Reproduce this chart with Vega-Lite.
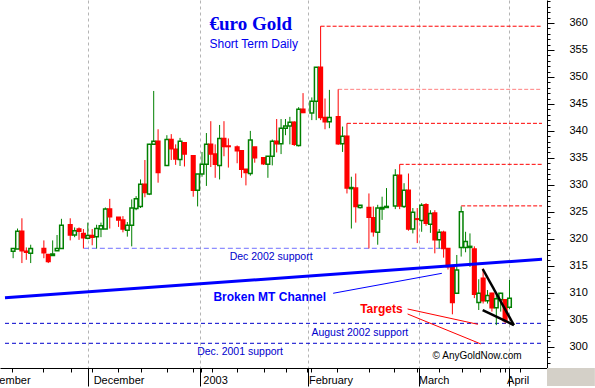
{
  "$schema": "https://vega.github.io/schema/vega-lite/v6.json",
  "width": 547,
  "height": 368,
  "autosize": {"type": "none"},
  "padding": {"left": 0, "top": 0, "right": 48, "bottom": 20},
  "background": "white",
  "config": {"view": {"stroke": null}},
  "datasets": {
    "candles": [
      {"t": 2, "o": 317.7, "h": 318.3, "l": 316.4, "c": 318.2},
      {"t": 3, "o": 318.1, "h": 321.9, "l": 318.1, "c": 321.4},
      {"t": 4, "o": 321.4, "h": 323.8, "l": 315.5, "c": 317.8},
      {"t": 5, "o": 317.7, "h": 318.4, "l": 316.1, "c": 317.5},
      {"t": 6, "o": 317.3, "h": 318.9, "l": 315.5, "c": 318.2},
      {"t": 9, "o": 318.2, "h": 319.7, "l": 316.4, "c": 317.4},
      {"t": 10, "o": 317.1, "h": 317.1, "l": 315.5, "c": 315.8},
      {"t": 11, "o": 316.9, "h": 319.7, "l": 316.9, "c": 317.2},
      {"t": 12, "o": 317.8, "h": 320.7, "l": 317.8, "c": 318.2},
      {"t": 13, "o": 318.2, "h": 323.7, "l": 318.2, "c": 322.5},
      {"t": 15, "o": 322.6, "h": 323.8, "l": 319.7, "c": 320.7},
      {"t": 16, "o": 320.7, "h": 322.1, "l": 320.3, "c": 321.5},
      {"t": 17, "o": 321.8, "h": 322.1, "l": 319.8, "c": 321.4},
      {"t": 18, "o": 321.0, "h": 321.8, "l": 318.2, "c": 320.2},
      {"t": 19, "o": 320.1, "h": 323.0, "l": 319.9, "c": 320.6},
      {"t": 20, "o": 320.6, "h": 321.8, "l": 318.8, "c": 320.3},
      {"t": 21, "o": 320.4, "h": 322.6, "l": 318.2, "c": 321.9},
      {"t": 22, "o": 321.8, "h": 323.0, "l": 320.3, "c": 322.4},
      {"t": 23, "o": 321.8, "h": 325.8, "l": 321.8, "c": 325.5},
      {"t": 24, "o": 325.5, "h": 327.4, "l": 321.9, "c": 324.1},
      {"t": 26, "o": 324.0, "h": 324.0, "l": 322.2, "c": 323.5},
      {"t": 27, "o": 323.5, "h": 324.2, "l": 321.2, "c": 321.8},
      {"t": 28, "o": 321.6, "h": 323.1, "l": 320.4, "c": 322.5},
      {"t": 29, "o": 322.5, "h": 327.3, "l": 318.6, "c": 325.7},
      {"t": 30, "o": 325.6, "h": 327.9, "l": 325.3, "c": 327.4},
      {"t": 31, "o": 326.0, "h": 331.0, "l": 325.7, "c": 330.1},
      {"t": 32, "o": 330.1, "h": 334.6, "l": 327.7, "c": 328.6},
      {"t": 33, "o": 328.3, "h": 337.6, "l": 328.1, "c": 337.5},
      {"t": 34, "o": 337.5, "h": 347.4, "l": 337.5, "c": 338.1},
      {"t": 35, "o": 338.1, "h": 340.3, "l": 330.4, "c": 332.3},
      {"t": 37, "o": 333.6, "h": 339.2, "l": 333.6, "c": 338.4},
      {"t": 38, "o": 338.4, "h": 339.4, "l": 334.6, "c": 336.7},
      {"t": 39, "o": 336.6, "h": 337.5, "l": 333.7, "c": 334.8},
      {"t": 40, "o": 334.7, "h": 338.7, "l": 333.5, "c": 338.1},
      {"t": 41, "o": 337.8, "h": 337.8, "l": 333.4, "c": 335.7},
      {"t": 43, "o": 335.4, "h": 335.4, "l": 327.8, "c": 329.0},
      {"t": 44, "o": 329.0, "h": 332.0, "l": 326.0, "c": 332.0},
      {"t": 45, "o": 332.0, "h": 336.1, "l": 331.5, "c": 333.8},
      {"t": 46, "o": 333.8, "h": 339.6, "l": 329.8, "c": 337.5},
      {"t": 47, "o": 337.5, "h": 341.8, "l": 333.3, "c": 335.7},
      {"t": 48, "o": 335.7, "h": 337.5, "l": 331.3, "c": 333.8},
      {"t": 49, "o": 333.6, "h": 341.1, "l": 331.0, "c": 338.6},
      {"t": 50, "o": 338.6, "h": 341.8, "l": 335.3, "c": 337.1},
      {"t": 51, "o": 337.2, "h": 338.6, "l": 333.2, "c": 337.1},
      {"t": 53, "o": 337.0, "h": 337.3, "l": 334.0, "c": 336.3},
      {"t": 54, "o": 336.3, "h": 336.3, "l": 331.3, "c": 332.9},
      {"t": 55, "o": 332.9, "h": 332.9, "l": 329.9, "c": 332.3},
      {"t": 56, "o": 332.1, "h": 340.0, "l": 331.7, "c": 338.3},
      {"t": 57, "o": 337.0, "h": 337.0, "l": 334.1, "c": 335.0},
      {"t": 59, "o": 335.0, "h": 335.0, "l": 333.7, "c": 333.9},
      {"t": 60, "o": 333.8, "h": 335.3, "l": 331.3, "c": 335.3},
      {"t": 61, "o": 335.3, "h": 338.4, "l": 333.6, "c": 338.1},
      {"t": 62, "o": 338.1, "h": 342.2, "l": 336.0, "c": 337.6},
      {"t": 63, "o": 337.6, "h": 342.2, "l": 335.7, "c": 340.5},
      {"t": 64, "o": 340.5, "h": 342.2, "l": 339.2, "c": 340.9},
      {"t": 65, "o": 340.9, "h": 342.6, "l": 337.5, "c": 341.6},
      {"t": 66, "o": 341.6, "h": 341.8, "l": 337.2, "c": 337.5},
      {"t": 67, "o": 337.3, "h": 344.4, "l": 337.1, "c": 344.0},
      {"t": 68, "o": 344.0, "h": 347.0, "l": 343.3, "c": 343.4},
      {"t": 70, "o": 343.3, "h": 346.2, "l": 342.0, "c": 345.5},
      {"t": 71, "o": 345.5, "h": 351.8, "l": 342.0, "c": 351.8},
      {"t": 72, "o": 351.8, "h": 359.4, "l": 342.0, "c": 342.5},
      {"t": 73, "o": 342.5, "h": 346.0, "l": 340.3, "c": 341.7},
      {"t": 74, "o": 341.7, "h": 347.6, "l": 340.5, "c": 342.5},
      {"t": 76, "o": 342.6, "h": 347.7, "l": 337.4, "c": 337.6},
      {"t": 77, "o": 337.6, "h": 340.8, "l": 336.1, "c": 339.0},
      {"t": 78, "o": 339.0, "h": 341.4, "l": 328.4, "c": 329.4},
      {"t": 79, "o": 329.3, "h": 331.5, "l": 321.9, "c": 329.5},
      {"t": 80, "o": 329.4, "h": 332.1, "l": 323.0, "c": 326.0},
      {"t": 81, "o": 325.8, "h": 326.2, "l": 325.6, "c": 326.2},
      {"t": 83, "o": 325.8, "h": 328.4, "l": 318.2, "c": 324.0},
      {"t": 84, "o": 323.9, "h": 326.0, "l": 320.4, "c": 321.3},
      {"t": 85, "o": 321.2, "h": 326.3, "l": 318.9, "c": 325.7},
      {"t": 86, "o": 325.5, "h": 327.8, "l": 323.5, "c": 325.8},
      {"t": 87, "o": 325.8, "h": 329.4, "l": 325.7, "c": 326.0},
      {"t": 89, "o": 326.1, "h": 332.9, "l": 325.5, "c": 331.8},
      {"t": 90, "o": 331.8, "h": 333.8, "l": 325.5, "c": 326.1},
      {"t": 91, "o": 326.0, "h": 330.3, "l": 325.7, "c": 329.0},
      {"t": 92, "o": 329.0, "h": 332.1, "l": 321.5, "c": 321.8},
      {"t": 93, "o": 321.8, "h": 325.7, "l": 321.0, "c": 324.9},
      {"t": 94, "o": 323.7, "h": 325.7, "l": 319.2, "c": 323.6},
      {"t": 95, "o": 323.4, "h": 326.6, "l": 321.3, "c": 326.2},
      {"t": 96, "o": 326.3, "h": 326.6, "l": 322.4, "c": 322.9},
      {"t": 97, "o": 322.7, "h": 325.3, "l": 321.1, "c": 324.7},
      {"t": 98, "o": 324.8, "h": 325.3, "l": 317.3, "c": 319.8},
      {"t": 99, "o": 319.8, "h": 321.8, "l": 318.2, "c": 321.2},
      {"t": 100, "o": 321.2, "h": 321.5, "l": 316.5, "c": 318.2},
      {"t": 101, "o": 318.2, "h": 318.3, "l": 314.3, "c": 314.8},
      {"t": 102, "o": 314.8, "h": 314.8, "l": 306.0, "c": 308.2},
      {"t": 103, "o": 309.9, "h": 317.0, "l": 309.9, "c": 314.2},
      {"t": 104, "o": 318.4, "h": 326.0, "l": 316.7, "c": 325.0},
      {"t": 105, "o": 318.4, "h": 321.3, "l": 317.5, "c": 319.5},
      {"t": 106, "o": 318.4, "h": 321.0, "l": 314.8, "c": 318.6},
      {"t": 107, "o": 318.1, "h": 318.6, "l": 309.0, "c": 309.7},
      {"t": 108, "o": 308.2, "h": 312.5, "l": 306.8, "c": 309.9},
      {"t": 109, "o": 312.7, "h": 314.5, "l": 308.0, "c": 308.5},
      {"t": 110, "o": 308.5, "h": 310.5, "l": 308.0, "c": 309.5},
      {"t": 111, "o": 309.9, "h": 310.0, "l": 306.5, "c": 307.2},
      {"t": 112, "o": 307.2, "h": 309.9, "l": 304.0, "c": 308.9},
      {"t": 113, "o": 308.7, "h": 310.0, "l": 306.5, "c": 309.9},
      {"t": 114, "o": 308.7, "h": 308.8, "l": 304.3, "c": 304.8},
      {"t": 115, "o": 307.3, "h": 312.4, "l": 307.0, "c": 309.0}
    ]
  },
  "resolve": {"scale": {"x": "independent", "y": "independent"}, "axis": {"x": "independent", "y": "independent"}},
  "layer": [
    {
      "data": {"values": [{"name": "frame"}]},
      "mark": {"type": "rect", "color": "#d4d0c8"},
      "encoding": {
        "x": {"datum": 122.4, "type": "quantitative", "title": null, "scale": {"domain": [0.15, 122.4], "nice": false, "zero": false},
          "axis": {
            "orient": "bottom",
            "values": [19.88, 44.84, 68.9, 93.9, 114],
            "tickCount": 500,
            "domain": false, "labels": false,
            "tickColor": "black", "tickWidth": 1, "tickSize": 18,
            "grid": true, "gridColor": "#b4b4b4", "gridDash": [3, 3], "gridWidth": 1
          }},
        "x2": {"datum": 133.1},
        "y": {"datum": 296.05, "type": "quantitative", "title": null, "scale": {"domain": [296.05, 364.26], "nice": false, "zero": false},
          "axis": {
            "orient": "right",
            "values": [297,298,299,301,302,303,304,306,307,308,309,311,312,313,314,316,317,318,319,321,322,323,324,326,327,328,329,331,332,333,334,336,337,338,339,341,342,343,344,346,347,348,349,351,352,353,354,356,357,358,359,361,362,363,364],
            "tickCount": 500,
            "domain": false, "labels": false, "grid": false,
            "tickColor": "black", "tickWidth": 1, "tickSize": 3
          }},
        "y2": {"datum": 292.71}
      }
    },
    {
      "layer": [
        {
          "data": {"values": [{"t": 18.1, "t2": 100.5, "v": 318.24}]},
          "mark": {"type": "rule", "color": "#6f6fff", "strokeWidth": 1, "strokeDash": [5, 3]},
          "encoding": {
            "x": {"field": "t", "type": "quantitative", "title": null, "scale": {"domain": [0.15, 122.4], "nice": false, "zero": false},
              "axis": {
                "orient": "bottom",
                "values": [0.15, 1.8, 8.9, 15.1, 19.88, 25.8, 31.1, 37.0, 43.0, 44.84, 47.2, 53.0, 59.0, 64.2, 68.9, 69.9, 75.7, 83.0, 88.8, 93.9, 98.9, 104.1, 108.2, 112.8, 114, 117.5],
                "tickCount": 500,
                "domainColor": "black", "domainWidth": 1,
                "tickColor": "black", "tickWidth": 1, "tickSize": 4,
                "tickOpacity": {"condition": {"test": "datum.value < 1", "value": 0}, "value": 1},
                "labelExpr": "datum.value < 1 ? 'November' : datum.value == 19.88 ? 'December' : datum.value == 44.84 ? '2003' : datum.value == 68.9 ? 'February' : datum.value == 93.9 ? 'March' : datum.value == 114 ? 'April' : ''",
                "labelAlign": "left", "labelBaseline": "top", "labelPadding": 2.5,
                "labelOffset": {"condition": {"test": "datum.value < 1", "value": -25.7}, "value": 1.5},
                "labelFont": "Liberation Sans", "labelFontSize": 11, "labelColor": "black",
                "labelOverlap": false, "labelBound": false, "labelFlush": false,
                "grid": false
              }},
            "x2": {"field": "t2"},
            "y": {"field": "v", "type": "quantitative", "title": null, "scale": {"domain": [296.05, 364.26], "nice": false, "zero": false},
              "axis": {
                "orient": "right",
                "values": [300, 305, 310, 315, 320, 325, 330, 335, 340, 345, 350, 355, 360],
                "tickCount": 500,
                "format": "d",
                "domainColor": "black", "tickColor": "black", "tickSize": 7,
                "labelAlign": "left", "labelBaseline": "middle", "labelPadding": 15,
                "labelFont": "Liberation Sans", "labelFontSize": 11, "labelColor": "black",
                "labelOverlap": false, "labelBound": false, "labelFlush": false,
                "grid": false
              }}
          }
        },
        {
          "data": {"values": [{"t": 0.15, "t2": 122.4, "v": 304.33}, {"t": 0.15, "t2": 122.4, "v": 300.63}]},
          "mark": {"type": "rule", "color": "#0000cc", "strokeWidth": 1, "strokeDash": [4, 3]},
          "encoding": {
            "x": {"field": "t", "type": "quantitative", "title": null, "scale": {"domain": [0.15, 122.4], "nice": false, "zero": false}},
            "x2": {"field": "t2"},
            "y": {"field": "v", "type": "quantitative", "title": null, "scale": {"domain": [296.05, 364.26], "nice": false, "zero": false}}
          }
        },
        {
          "data": {"values": [{"t": 72, "t2": 122.4, "v": 359.4}, {"t": 78, "t2": 122.4, "v": 341.4}, {"t": 90, "t2": 122.4, "v": 333.8}, {"t": 104, "t2": 122.4, "v": 326.1}]},
          "mark": {"type": "rule", "color": "#ff0000", "strokeWidth": 1, "strokeDash": [4, 2]},
          "encoding": {
            "x": {"field": "t", "type": "quantitative", "title": null, "scale": {"domain": [0.15, 122.4], "nice": false, "zero": false}},
            "x2": {"field": "t2"},
            "y": {"field": "v", "type": "quantitative", "title": null, "scale": {"domain": [296.05, 364.26], "nice": false, "zero": false}}
          }
        },
        {
          "data": {"values": [{"t": 76, "t2": 122.4, "v": 347.7}]},
          "mark": {"type": "rule", "color": "#ff8080", "strokeWidth": 1, "strokeDash": [4, 2]},
          "encoding": {
            "x": {"field": "t", "type": "quantitative", "title": null, "scale": {"domain": [0.15, 122.4], "nice": false, "zero": false}},
            "x2": {"field": "t2"},
            "y": {"field": "v", "type": "quantitative", "title": null, "scale": {"domain": [296.05, 364.26], "nice": false, "zero": false}}
          }
        },
        {
          "data": {"name": "candles"},
          "mark": {"type": "rule", "strokeWidth": 1},
          "encoding": {
            "x": {"field": "t", "type": "quantitative", "title": null, "scale": {"domain": [0.15, 122.4], "nice": false, "zero": false}},
            "y": {"field": "l", "type": "quantitative", "title": null, "scale": {"domain": [296.05, 364.26], "nice": false, "zero": false}},
            "y2": {"field": "h"},
            "color": {"condition": {"test": "datum.c >= datum.o", "value": "#008000"}, "value": "#ff0000"}
          }
        },
        {
          "data": {"name": "candles"},
          "mark": {"type": "bar", "width": 3.6, "strokeWidth": 1.5},
          "encoding": {
            "x": {"field": "t", "type": "quantitative", "title": null, "scale": {"domain": [0.15, 122.4], "nice": false, "zero": false}},
            "y": {"field": "o", "type": "quantitative", "title": null, "scale": {"domain": [296.05, 364.26], "nice": false, "zero": false}},
            "y2": {"field": "c"},
            "fill": {"condition": {"test": "datum.c >= datum.o", "value": "white"}, "value": "#ff0000"},
            "stroke": {"condition": {"test": "datum.c >= datum.o", "value": "#008000"}, "value": "#ff0000"}
          }
        },
        {
          "data": {"values": [{"t": 0.15, "t2": 122.4, "v": 309.08, "v2": 316.2}]},
          "mark": {"type": "rule", "color": "#0000ff", "strokeWidth": 3},
          "encoding": {
            "x": {"field": "t", "type": "quantitative", "title": null, "scale": {"domain": [0.15, 122.4], "nice": false, "zero": false}},
            "x2": {"field": "t2"},
            "y": {"field": "v", "type": "quantitative", "title": null, "scale": {"domain": [296.05, 364.26], "nice": false, "zero": false}},
            "y2": {"field": "v2"}
          }
        },
        {
          "data": {"values": [{"t": 74.85, "t2": 99.6, "v": 309.9, "v2": 313.6}]},
          "mark": {"type": "rule", "color": "#0000ff", "strokeWidth": 1},
          "encoding": {
            "x": {"field": "t", "type": "quantitative", "title": null, "scale": {"domain": [0.15, 122.4], "nice": false, "zero": false}},
            "x2": {"field": "t2"},
            "y": {"field": "v", "type": "quantitative", "title": null, "scale": {"domain": [296.05, 364.26], "nice": false, "zero": false}},
            "y2": {"field": "v2"}
          }
        },
        {
          "data": {"values": [{"t": 91.8, "t2": 107.8, "v": 306.99, "v2": 304.15}, {"t": 91.8, "t2": 108.5, "v": 306.06, "v2": 300.5}]},
          "mark": {"type": "rule", "color": "#ff0000", "strokeWidth": 1},
          "encoding": {
            "x": {"field": "t", "type": "quantitative", "title": null, "scale": {"domain": [0.15, 122.4], "nice": false, "zero": false}},
            "x2": {"field": "t2"},
            "y": {"field": "v", "type": "quantitative", "title": null, "scale": {"domain": [296.05, 364.26], "nice": false, "zero": false}},
            "y2": {"field": "v2"}
          }
        },
        {
          "data": {"values": [{"t": 108.9, "t2": 116.0, "v": 314.4, "v2": 304.0}, {"t": 108.9, "t2": 116.0, "v": 306.8, "v2": 304.0}]},
          "mark": {"type": "rule", "color": "#000000", "strokeWidth": 2.5},
          "encoding": {
            "x": {"field": "t", "type": "quantitative", "title": null, "scale": {"domain": [0.15, 122.4], "nice": false, "zero": false}},
            "x2": {"field": "t2"},
            "y": {"field": "v", "type": "quantitative", "title": null, "scale": {"domain": [296.05, 364.26], "nice": false, "zero": false}},
            "y2": {"field": "v2"}
          }
        },
        {
          "data": {"values": [{"t": 46.7, "v": 358.7, "label": "€uro Gold"}]},
          "mark": {"type": "text", "font": "Liberation Serif", "fontWeight": "bold", "fontSize": 19, "color": "#0000ee", "align": "left", "baseline": "alphabetic"},
          "encoding": {
            "x": {"field": "t", "type": "quantitative", "title": null, "scale": {"domain": [0.15, 122.4], "nice": false, "zero": false}},
            "y": {"field": "v", "type": "quantitative", "title": null, "scale": {"domain": [296.05, 364.26], "nice": false, "zero": false}},
            "text": {"field": "label"}
          }
        },
        {
          "data": {"values": [{"t": 46.7, "v": 355.42, "label": "Short Term Daily"}]},
          "mark": {"type": "text", "font": "Liberation Sans", "fontSize": 12, "color": "#0000ee", "align": "left", "baseline": "alphabetic"},
          "encoding": {
            "x": {"field": "t", "type": "quantitative", "title": null, "scale": {"domain": [0.15, 122.4], "nice": false, "zero": false}},
            "y": {"field": "v", "type": "quantitative", "title": null, "scale": {"domain": [296.05, 364.26], "nice": false, "zero": false}},
            "text": {"field": "label"}
          }
        },
        {
          "data": {"values": [{"t": 51.3, "v": 316.1, "label": "Dec 2002 support"}, {"t": 69.9, "v": 301.98, "label": "August 2002 support"}, {"t": 43.9, "v": 298.46, "label": "Dec. 2001 support"}]},
          "mark": {"type": "text", "font": "Liberation Sans", "fontSize": 10.5, "color": "#0000cc", "align": "left", "baseline": "alphabetic"},
          "encoding": {
            "x": {"field": "t", "type": "quantitative", "title": null, "scale": {"domain": [0.15, 122.4], "nice": false, "zero": false}},
            "y": {"field": "v", "type": "quantitative", "title": null, "scale": {"domain": [296.05, 364.26], "nice": false, "zero": false}},
            "text": {"field": "label"}
          }
        },
        {
          "data": {"values": [{"t": 47.6, "v": 308.47, "label": "Broken MT Channel"}]},
          "mark": {"type": "text", "font": "Liberation Sans", "fontWeight": "bold", "fontSize": 12, "color": "#0000ff", "align": "left", "baseline": "alphabetic"},
          "encoding": {
            "x": {"field": "t", "type": "quantitative", "title": null, "scale": {"domain": [0.15, 122.4], "nice": false, "zero": false}},
            "y": {"field": "v", "type": "quantitative", "title": null, "scale": {"domain": [296.05, 364.26], "nice": false, "zero": false}},
            "text": {"field": "label"}
          }
        },
        {
          "data": {"values": [{"t": 81.0, "v": 306.2, "label": "Targets"}]},
          "mark": {"type": "text", "font": "Liberation Sans", "fontWeight": "bold", "fontSize": 12, "color": "#ff0000", "align": "left", "baseline": "alphabetic"},
          "encoding": {
            "x": {"field": "t", "type": "quantitative", "title": null, "scale": {"domain": [0.15, 122.4], "nice": false, "zero": false}},
            "y": {"field": "v", "type": "quantitative", "title": null, "scale": {"domain": [296.05, 364.26], "nice": false, "zero": false}},
            "text": {"field": "label"}
          }
        },
        {
          "data": {"values": [{"t": 97.5, "v": 297.63, "label": "© AnyGoldNow.com"}]},
          "mark": {"type": "text", "font": "Liberation Sans", "fontSize": 10, "color": "#000000", "align": "left", "baseline": "alphabetic"},
          "encoding": {
            "x": {"field": "t", "type": "quantitative", "title": null, "scale": {"domain": [0.15, 122.4], "nice": false, "zero": false}},
            "y": {"field": "v", "type": "quantitative", "title": null, "scale": {"domain": [296.05, 364.26], "nice": false, "zero": false}},
            "text": {"field": "label"}
          }
        }
      ]
    }
  ]
}
